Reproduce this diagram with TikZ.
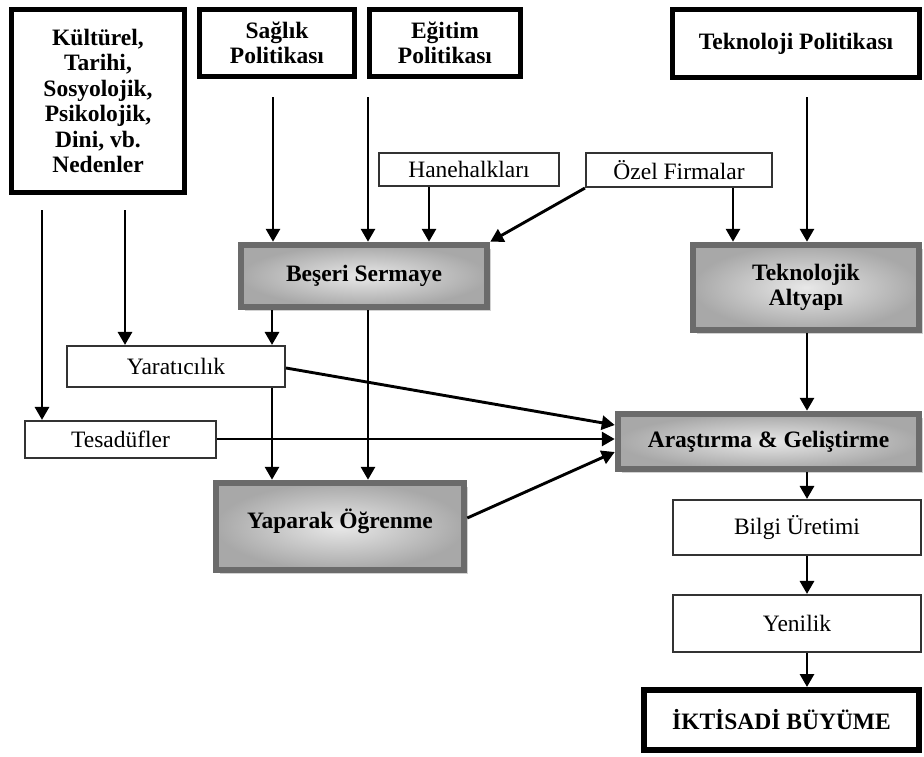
\documentclass[tikz,border=0pt]{standalone}
\usepackage{fontspec}
\setmainfont{Liberation Serif}
\usetikzlibrary{arrows.meta,shadows}
\begin{document}
\begin{tikzpicture}[x=1pt,y=-1pt,
  every node/.style={font=\fontsize{23.5}{25}\selectfont, inner sep=0pt, align=center},
  thickbox/.style={draw=black, line width=5pt, fill=white, font=\fontsize{23.5}{25}\selectfont\bfseries},
  thinbox/.style={draw=black!80, line width=1.6pt, fill=white},
  graybox/.style={draw=black!58, line width=6.5pt, inner color=gray!18, outer color=gray!68,
    font=\fontsize{23.5}{25}\selectfont\bfseries,
    drop shadow={shadow xshift=4pt, shadow yshift=-4pt, fill=gray!35, opacity=1}},
  arr/.style={line width=2.9pt, -{Triangle[width=14pt,length=13pt]}}]
\fill[white] (0,0) rectangle (924,756);
\useasboundingbox (0,0) rectangle (924,756);

% top boxes
\node[thickbox, minimum width=173, minimum height=183, font=\fontsize{23.5}{25.5}\selectfont\bfseries] (kult) at (98,101)
  {Kültürel,\\Tarihi,\\Sosyolojik,\\Psikolojik,\\Dini, vb.\\Nedenler};
\node[thickbox, minimum width=155, minimum height=67] (saglik) at (277,43) {Sağlık\\Politikası};
\node[thickbox, minimum width=151, minimum height=67] (egitim) at (445,43) {Eğitim\\Politikası};
\node[thickbox, minimum width=247, minimum height=68] (tekpol) at (796,43.5) {Teknoloji Politikası};

% thin boxes
\node[thinbox, minimum width=180.5, minimum height=33.5] (hane) at (469,169.5) {Hanehalkları};
\node[thinbox, minimum width=186.5, minimum height=34.5] (ozel) at (679,170) {Özel Firmalar};
\node[thinbox, minimum width=218.5, minimum height=41.5] (yarat) at (176,366.5) {Yaratıcılık};
\node[thinbox, minimum width=191.5, minimum height=37.5] (tesad) at (120.5,439.5) {Tesadüfler};
\node[thinbox, minimum width=248.5, minimum height=55.5] (bilgi) at (797,527.5) {Bilgi Üretimi};
\node[thinbox, minimum width=248.5, minimum height=57.5] (yenilik) at (797,623.5) {Yenilik};

% gray boxes
\node[graybox, minimum width=246, minimum height=62] (beseri) at (364,276) {Beşeri Sermaye};
\node[graybox, minimum width=226, minimum height=85] (tekalt) at (806,287.5) {Teknolojik\\Altyapı};
\node[graybox, minimum width=248, minimum height=87, text depth=16pt] (yaparak) at (340,526.5) {Yaparak Öğrenme};
\node[graybox, minimum width=301, minimum height=55] (arge) at (768.5,441.5) {Araştırma \& Geliştirme};

% bottom
\node[thickbox, line width=6pt, minimum width=275, minimum height=60] (ikt) at (781.5,720) {İKTİSADİ BÜYÜME};

% free start points and x positions
\coordinate (s1) at (273,97);
\coordinate (s2) at (368,97);
\coordinate (s3) at (807,97);
\coordinate (k1) at (42,210);
\coordinate (k2) at (125,210);
\coordinate (xh) at (429,0);
\coordinate (xo) at (733,0);
\coordinate (xb1) at (272,0);
\coordinate (xb2) at (368,0);
\coordinate (xr) at (807,0);

\draw[arr] (s1) -- (s1 |- beseri.north);
\draw[arr] (s2) -- (s2 |- beseri.north);
\draw[arr] (hane.south -| xh) -- (xh |- beseri.north);
\draw[arr] (ozel.south west) -- (beseri.north east);
\draw[arr] (ozel.south -| xo) -- (xo |- tekalt.north);
\draw[arr] (s3) -- (s3 |- tekalt.north);

\draw[arr] (k1) -- (k1 |- tesad.north);
\draw[arr] (k2) -- (k2 |- yarat.north);
\draw[arr] (beseri.south -| xb1) -- (xb1 |- yarat.north);
\draw[arr] (beseri.south -| xb2) -- (xb2 |- yaparak.north);
\draw[arr] (yarat.south -| xb1) -- (xb1 |- yaparak.north);

\coordinate (a1) at (0,425);
\coordinate (a2) at (0,439);
\coordinate (a3) at (0,452);
\coordinate (y1) at (0,368);
\coordinate (y3) at (0,518);
\draw[arr] (yarat.east |- y1) -- (arge.west |- a1);
\draw[arr] (tesad.east |- a2) -- (arge.west |- a2);
\draw[arr] (yaparak.east |- y3) -- (arge.west |- a3);

\draw[arr] (tekalt.south -| xr) -- (xr |- arge.north);
\draw[arr] (arge.south -| xr) -- (xr |- bilgi.north);
\draw[arr] (bilgi.south -| xr) -- (xr |- yenilik.north);
\draw[arr] (yenilik.south -| xr) -- (xr |- ikt.north);
\end{tikzpicture}
\end{document}
